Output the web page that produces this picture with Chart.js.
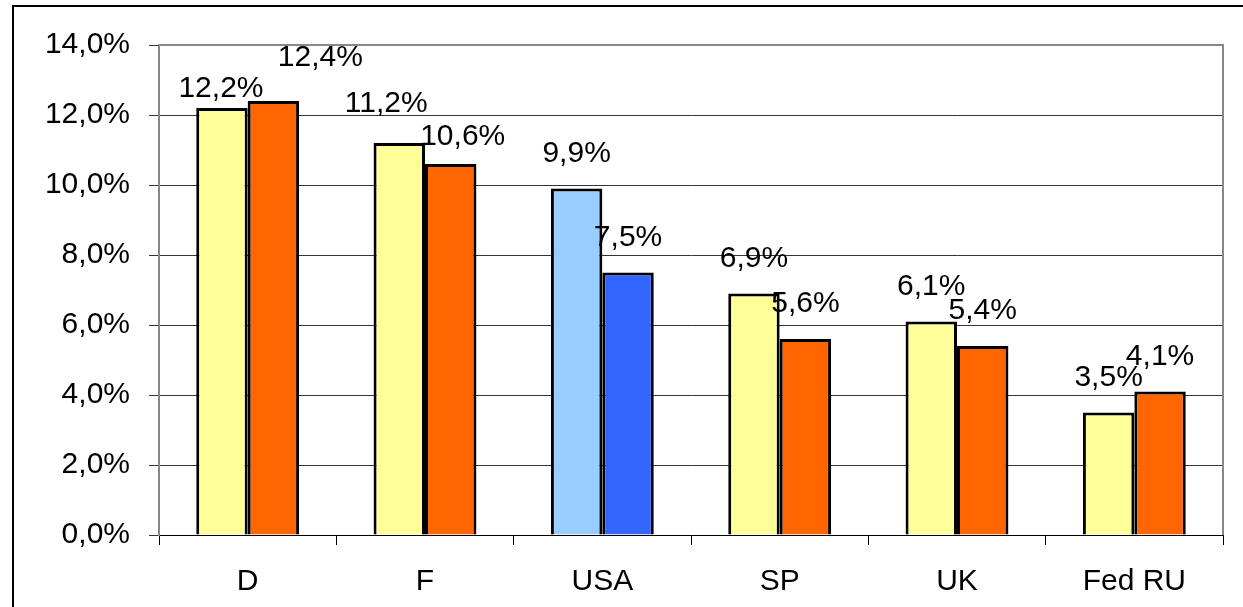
<!DOCTYPE html>
<html>
<head>
<meta charset="utf-8">
<script src="https://cdn.jsdelivr.net/npm/chart.js@4.4.1/dist/chart.umd.min.js"></script>
<style>
  html, body { margin: 0; padding: 0; background: #fff; }
  #wrap { position: relative; width: 1243px; height: 607px; }
</style>
</head>
<body>
<div id="wrap"><canvas id="chart" width="1243" height="607"></canvas></div>
<script>
const categories = ['D', 'F', 'USA', 'SP', 'UK', 'Fed RU'];
const seriesA = [12.2, 11.2, 9.9, 6.9, 6.1, 3.5];
const seriesB = [12.4, 10.6, 7.5, 5.6, 5.4, 4.1];
const yTicks = [0, 2, 4, 6, 8, 10, 12, 14];

const fmt = (v) => v.toFixed(1).replace('.', ',') + '%';

const colorsA = categories.map(c => c === 'USA' ? '#99CCFF' : '#FFFF99');
const colorsB = categories.map(c => c === 'USA' ? '#3366FF' : '#FF6600');

// manual nudges of some labels, as they sit in the original
const labelNudge = {
    '0-0': [-1, 16], '1-0': [47, -8],
    '0-1': [-13, -4], '1-1': [12, 8]
};

const frame = {
    id: 'frame',
    beforeDraw(chart) {
        const ctx = chart.ctx;
        ctx.save();
        ctx.fillStyle = '#fff';
        ctx.fillRect(0, 0, chart.width, chart.height);
        ctx.strokeStyle = '#000';
        ctx.lineWidth = 2;
        ctx.beginPath();
        ctx.moveTo(13, chart.height + 2);
        ctx.lineTo(13, 6);
        ctx.lineTo(chart.width + 2, 6);
        ctx.stroke();
        ctx.restore();
    },
    afterDatasetsDraw(chart) {
        const ctx = chart.ctx;
        const a = chart.chartArea;
        ctx.save();
        ctx.strokeStyle = '#888';
        ctx.lineWidth = 2;
        ctx.beginPath();
        ctx.moveTo(a.left, a.top);
        ctx.lineTo(a.right, a.top);
        ctx.lineTo(a.right, a.bottom);
        ctx.stroke();
        ctx.restore();
    }
};

const valueLabels = {
    id: 'valueLabels',
    afterDatasetsDraw(chart) {
        const ctx = chart.ctx;
        ctx.save();
        ctx.font = '30px "Liberation Sans", Arial, sans-serif';
        ctx.fillStyle = '#000';
        ctx.textAlign = 'center';
        ctx.textBaseline = 'alphabetic';
        chart.data.datasets.forEach((ds, di) => {
            chart.getDatasetMeta(di).data.forEach((bar, i) => {
                const n = labelNudge[di + '-' + i] || [0, 0];
                ctx.fillText(fmt(ds.data[i]), bar.x + n[0], bar.y - 27 + n[1]);
            });
        });
        ctx.restore();
    }
};

const ctx = document.getElementById('chart').getContext('2d');
new Chart(ctx, {
    type: 'bar',
    data: {
        labels: categories,
        datasets: [
            {
                label: 'A',
                data: seriesA,
                backgroundColor: colorsA,
                borderColor: '#000',
                borderWidth: 3,
                barPercentage: 1.0,
                categoryPercentage: 0.58
            },
            {
                label: 'B',
                data: seriesB,
                backgroundColor: colorsB,
                borderColor: '#000',
                borderWidth: 3,
                barPercentage: 1.0,
                categoryPercentage: 0.58
            }
        ]
    },
    plugins: [frame, valueLabels],
    options: {
        responsive: false,
        animation: false,
        layout: { padding: { left: 0, top: 45, right: 20, bottom: 0 } },
        plugins: {
            legend: { display: false },
            tooltip: { enabled: false }
        },
        scales: {
            x: {
                grid: {
                    offset: true,
                    drawOnChartArea: false,
                    tickLength: 10,
                    color: '#000'
                },
                border: { color: '#000', width: 1 },
                ticks: {
                    color: '#000',
                    padding: 19,
                    font: { family: '"Liberation Sans", Arial, sans-serif', size: 30 }
                },
                afterFit(scale) { scale.height = 72; }
            },
            y: {
                min: 0,
                max: 14,
                afterBuildTicks(scale) { scale.ticks = yTicks.map(v => ({ value: v })); },
                grid: {
                    color: '#333',
                    tickLength: 10
                },
                border: { color: '#888', width: 2 },
                ticks: {
                    color: '#000',
                    padding: 19,
                    callback: (v) => fmt(v),
                    font: { family: '"Liberation Sans", Arial, sans-serif', size: 30 }
                },
                afterFit(scale) { scale.width = 159; }
            }
        }
    }
});
</script>
</body>
</html>
